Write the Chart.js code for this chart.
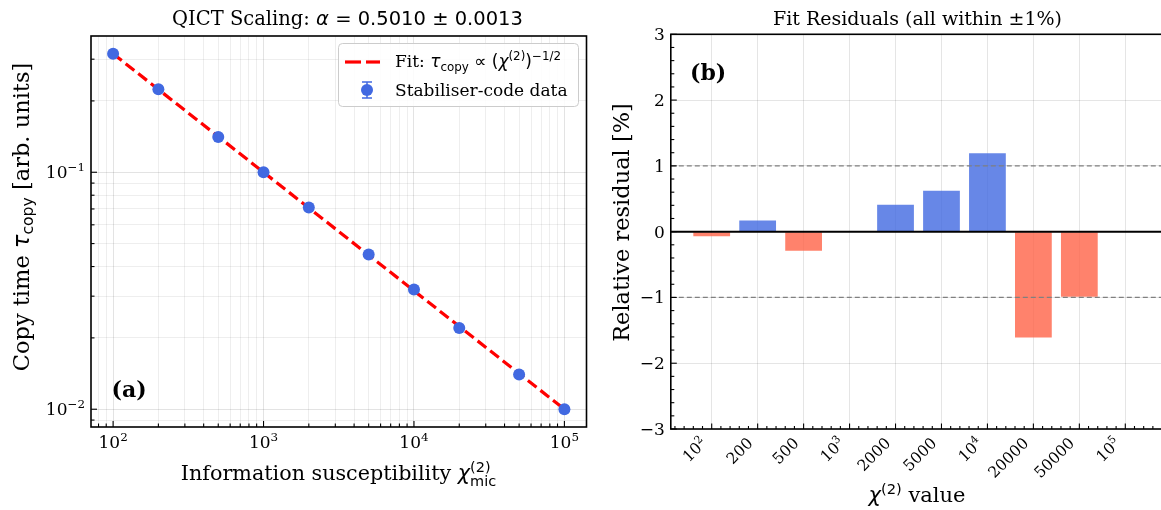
<!DOCTYPE html>
<html>
<head>
<meta charset="utf-8">
<script src="https://cdn.jsdelivr.net/npm/chart.js@4.4.1/dist/chart.umd.min.js"></script>
<style>
  html, body { margin: 0; padding: 0; background: #fff; overflow: hidden; width: 1161px; height: 510px; }
  canvas { position: absolute; top: 0; }
  #left { left: 0; width: 600px; height: 510px; }
  #right { left: 600px; width: 600px; height: 510px; }
</style>
</head>
<body>
<canvas id="left" width="600" height="510"></canvas>
<canvas id="right" width="600" height="510"></canvas>
<script>
// data
const chiValues = [100, 200, 500, 1000, 2000, 5000, 10000, 20000, 50000, 100000];
const copyTimes = [0.316, 0.224, 0.141, 0.100, 0.071, 0.045, 0.032, 0.022, 0.014, 0.010];
const fitChi = [100, 100000];
const fitTau = [0.3162, 0.0100];
const residuals = [-0.07, 0.17, -0.29, 0.0, 0.41, 0.62, 1.19, -1.61, -0.99, 0.0];
const residualLabels = ['10^2', '200', '500', '10^3', '2000', '5000', '10^4', '20000', '50000', '10^5'];
const xMajorLabels = ['10^2', '10^3', '10^4', '10^5'];
const yMajorLabels = ['10^−2', '10^−1'];
const resTickLabels = ['−3', '−2', '−1', '0', '1', '2', '3'];

const BLUE = '#4169E1';
const BAR_BLUE = 'rgba(65,105,225,0.8)';
const BAR_RED = 'rgba(255,99,71,0.8)';
const SERIF = '"DejaVu Serif"';
const SANS = '"DejaVu Sans"';

// little rich text helpers (mathtext-ish)
const rm = (t, s, bold) => ({ t, f: (bold ? 'bold ' : '') + s + 'px ' + SERIF, dy: 0 });
const it = (t, s) => ({ t, f: 'italic ' + s + 'px ' + SANS, dy: 0 });
const sn = (t, s) => ({ t, f: s + 'px ' + SANS, dy: 0 });
const sup = (t, s, fam) => ({ t, f: (s * 0.7).toFixed(1) + 'px ' + (fam || SANS), dy: -0.4 * s });
const sub = (t, s, d) => ({ t, f: (s * 0.7).toFixed(1) + 'px ' + SANS, dy: (d || 0.22) * s });

function partWidth(ctx, p) {
  if (p.stack) return Math.max(...p.stack.map(q => partWidth(ctx, q)));
  ctx.font = p.f;
  return ctx.measureText(p.t).width;
}

function drawRich(ctx, parts, x, y, align, rot) {
  let w = 0;
  parts.forEach(p => { w += partWidth(ctx, p); });
  ctx.save();
  ctx.translate(x, y);
  if (rot) ctx.rotate(rot);
  ctx.fillStyle = '#000';
  ctx.textAlign = 'left';
  ctx.textBaseline = 'alphabetic';
  let cx = align === 'center' ? -w / 2 : align === 'right' ? -w : 0;
  parts.forEach(p => {
    const pw = partWidth(ctx, p);
    (p.stack || [p]).forEach(q => {
      ctx.font = q.f;
      ctx.fillText(q.t, cx, q.dy);
    });
    cx += pw;
  });
  ctx.restore();
}

function tickParts(label, s) {
  const i = label.indexOf('^');
  if (i < 0) return [rm(label, s)];
  return [rm(label.slice(0, i), s), sup(label.slice(i + 1), s, SERIF)];
}

function logTicks(min, max) {
  const out = [];
  for (let e = Math.floor(Math.log10(min)); e <= Math.ceil(Math.log10(max)); e++) {
    for (let m = 1; m < 10; m++) {
      const v = m * Math.pow(10, e);
      if (v >= min && v <= max) out.push({ value: v, major: m === 1 });
    }
  }
  return out;
}

function spines(ctx, a) {
  ctx.save();
  ctx.strokeStyle = '#000';
  ctx.lineWidth = 1.6;
  ctx.strokeRect(a.left, a.top, a.right - a.left, a.bottom - a.top);
  ctx.restore();
}

function tickMark(ctx, x1, y1, x2, y2) {
  ctx.beginPath();
  ctx.moveTo(x1, y1);
  ctx.lineTo(x2, y2);
  ctx.stroke();
}

// ---------------- left panel ----------------
const leftDecor = {
  id: 'leftDecor',
  afterDraw(chart) {
    const ctx = chart.ctx, a = chart.chartArea;
    const xs = chart.scales.x, ys = chart.scales.y;
    spines(ctx, a);
    ctx.save();
    ctx.strokeStyle = '#000';
    ctx.lineWidth = 1.1;
    xs.ticks.forEach(t => {
      const px = xs.getPixelForValue(t.value);
      tickMark(ctx, px, a.bottom, px, a.bottom - (t.major ? 6 : 3.5));
    });
    ys.ticks.forEach(t => {
      const py = ys.getPixelForValue(t.value);
      tickMark(ctx, a.left, py, a.left + (t.major ? 6 : 3.5), py);
    });
    ctx.restore();

    const majX = xs.ticks.filter(t => t.major);
    majX.forEach((t, i) => drawRich(ctx, tickParts(xMajorLabels[i], 17), xs.getPixelForValue(t.value), a.bottom + 20.5, 'center'));
    const majY = ys.ticks.filter(t => t.major);
    majY.forEach((t, i) => drawRich(ctx, tickParts(yMajorLabels[i], 17), a.left - 6, ys.getPixelForValue(t.value) + 6, 'right'));

    drawRich(ctx, [rm('QICT Scaling: ', 19.5), it('α', 19.5), sn(' = 0.5010 ± 0.0013', 19.5)], 347.5, 25, 'center');
    drawRich(ctx, [rm('Information susceptibility ', 20.7), it('χ', 20.7),
      { stack: [sup('(2)', 20.7), sub('mic', 20.7, 0.3)] }], 338.5, 480, 'center');
    drawRich(ctx, [rm('Copy time ', 22.5), it('τ', 22.5), sub('copy', 22.5), rm(' [arb. units]', 22.5)], 28.5, 217, 'center', -Math.PI / 2);
    drawRich(ctx, [rm('(a)', 22, true)], 111.5, 397, 'left');

    // legend
    ctx.save();
    ctx.beginPath();
    ctx.roundRect(338.5, 43.5, 240, 63, 4);
    ctx.fillStyle = 'rgba(255,255,255,0.85)';
    ctx.fill();
    ctx.strokeStyle = '#cccccc';
    ctx.lineWidth = 1;
    ctx.stroke();
    ctx.strokeStyle = '#ff0000';
    ctx.lineWidth = 3.2;
    tickMark(ctx, 345, 62, 361, 62);
    tickMark(ctx, 366, 62, 380, 62);
    ctx.strokeStyle = BLUE;
    ctx.lineWidth = 1.5;
    tickMark(ctx, 367, 82, 367, 98);
    tickMark(ctx, 362, 82, 372, 82);
    tickMark(ctx, 362, 98, 372, 98);
    ctx.fillStyle = BLUE;
    ctx.beginPath();
    ctx.arc(367, 90, 6, 0, Math.PI * 2);
    ctx.fill();
    ctx.restore();
    drawRich(ctx, [rm('Fit: ', 17), it('τ', 17), sub('copy', 17), sn(' ∝ (', 17), it('χ', 17),
      sup('(2)', 17), sn(')', 17), sup('−1/2', 17)], 395, 67, 'left');
    drawRich(ctx, [rm('Stabiliser-code data', 17)], 395, 96, 'left');
  }
};

const logGrid = {
  color: c => (c.tick && c.tick.major) ? 'rgba(0,0,0,0.11)' : 'rgba(0,0,0,0.065)',
  lineWidth: 1,
  drawTicks: false
};

new Chart(document.getElementById('left'), {
  type: 'scatter',
  data: {
    datasets: [
      {
        type: 'line',
        data: fitChi.map((x, i) => ({ x, y: fitTau[i] })),
        borderColor: '#ff0000',
        borderWidth: 3.2,
        borderDash: [11, 5],
        pointRadius: 0,
        order: 2
      },
      {
        data: chiValues.map((x, i) => ({ x, y: copyTimes[i] })),
        backgroundColor: BLUE,
        borderWidth: 0,
        pointRadius: 6,
        order: 1
      }
    ]
  },
  options: {
    responsive: false,
    animation: false,
    devicePixelRatio: 1,
    layout: { padding: { left: 91, right: 13.5, top: 36, bottom: 83 } },
    plugins: { legend: { display: false }, tooltip: { enabled: false } },
    scales: {
      x: {
        type: 'logarithmic', min: 71.3, max: 140250,
        afterBuildTicks: s => { s.ticks = logTicks(s.min, s.max); },
        ticks: { display: false, autoSkip: false },
        grid: logGrid,
        border: { display: false }
      },
      y: {
        type: 'logarithmic', min: 0.008414, max: 0.3758,
        afterBuildTicks: s => { s.ticks = logTicks(s.min, s.max); },
        ticks: { display: false, autoSkip: false },
        grid: logGrid,
        border: { display: false }
      }
    }
  },
  plugins: [leftDecor]
});

// ---------------- right panel ----------------
const OFF = 600;
const rightDecor = {
  id: 'rightDecor',
  afterDatasetsDraw(chart) {
    const ctx = chart.ctx, a = chart.chartArea, ys = chart.scales.y;
    ctx.save();
    ctx.strokeStyle = '#808080';
    ctx.lineWidth = 1.2;
    ctx.setLineDash([5, 3]);
    [1, -1].forEach(v => {
      const py = ys.getPixelForValue(v);
      tickMark(ctx, a.left, py, a.right, py);
    });
    ctx.setLineDash([]);
    ctx.strokeStyle = '#000';
    ctx.lineWidth = 2;
    const p0 = ys.getPixelForValue(0);
    tickMark(ctx, a.left, p0, a.right, p0);
    ctx.restore();
  },
  afterDraw(chart) {
    const ctx = chart.ctx, a = chart.chartArea;
    const xs = chart.scales.x, ys = chart.scales.y;
    spines(ctx, a);
    ctx.save();
    ctx.strokeStyle = '#000';
    ctx.lineWidth = 1.1;
    for (let k = -15; k <= 15; k++) {
      const v = k / 5;
      const py = ys.getPixelForValue(v);
      tickMark(ctx, a.left, py, a.left + (k % 5 === 0 ? 6 : 3.5), py);
    }
    for (let k = -4; k <= 49; k++) {
      const v = k / 5;
      if (v < xs.min || v > xs.max) continue;
      const px = xs.getPixelForValue(v);
      tickMark(ctx, px, a.bottom, px, a.bottom - (k % 5 === 0 ? 5.5 : 3));
    }
    ctx.restore();

    ys.ticks.forEach((t, i) => drawRich(ctx, [rm(resTickLabels[i], 17)], a.left - 6, ys.getPixelForValue(t.value) + 6, 'right'));
    xs.ticks.forEach((t, i) => {
      const px = xs.getPixelForValue(t.value);
      drawRich(ctx, tickParts(residualLabels[i], 15.5), px - 4, a.bottom + 15, 'right', -Math.PI / 4);
    });

    ctx.save();
    ctx.translate(-OFF, 0);
    drawRich(ctx, [rm('Fit Residuals (all within ±1%)', 19)], 917.5, 25, 'center');
    drawRich(ctx, [it('χ', 21), sup('(2)', 21), rm(' value', 21)], 917, 502, 'center');
    drawRich(ctx, [rm('Relative residual [%]', 22.5)], 629, 222.5, 'center', -Math.PI / 2);
    drawRich(ctx, [rm('(b)', 22, true)], 690, 80, 'left');
    ctx.restore();
  }
};

const flatGrid = { color: 'rgba(0,0,0,0.1)', lineWidth: 1, drawTicks: false };

new Chart(document.getElementById('right'), {
  type: 'bar',
  data: {
    datasets: [{
      data: residuals.map((r, i) => ({ x: i, y: r })),
      backgroundColor: residuals.map(r => r >= 0 ? BAR_BLUE : BAR_RED),
      borderWidth: 0,
      barPercentage: 0.8,
      categoryPercentage: 1.0
    }]
  },
  options: {
    responsive: false,
    animation: false,
    devicePixelRatio: 1,
    layout: { padding: { left: 70.8, right: 33.8, top: 34.3, bottom: 81 } },
    plugins: { legend: { display: false }, tooltip: { enabled: false } },
    scales: {
      x: {
        type: 'linear', min: -0.89, max: 9.89, offset: false, z: 1,
        afterBuildTicks: s => { s.ticks = residualLabels.map((l, i) => ({ value: i })); },
        ticks: { display: false, autoSkip: false },
        grid: Object.assign({ offset: false }, flatGrid),
        border: { display: false }
      },
      y: {
        type: 'linear', min: -3, max: 3, z: 1,
        afterBuildTicks: s => { s.ticks = resTickLabels.map((l, i) => ({ value: i - 3 })); },
        ticks: { display: false, autoSkip: false },
        grid: flatGrid,
        border: { display: false }
      }
    }
  },
  plugins: [rightDecor]
});
</script>
</body>
</html>
